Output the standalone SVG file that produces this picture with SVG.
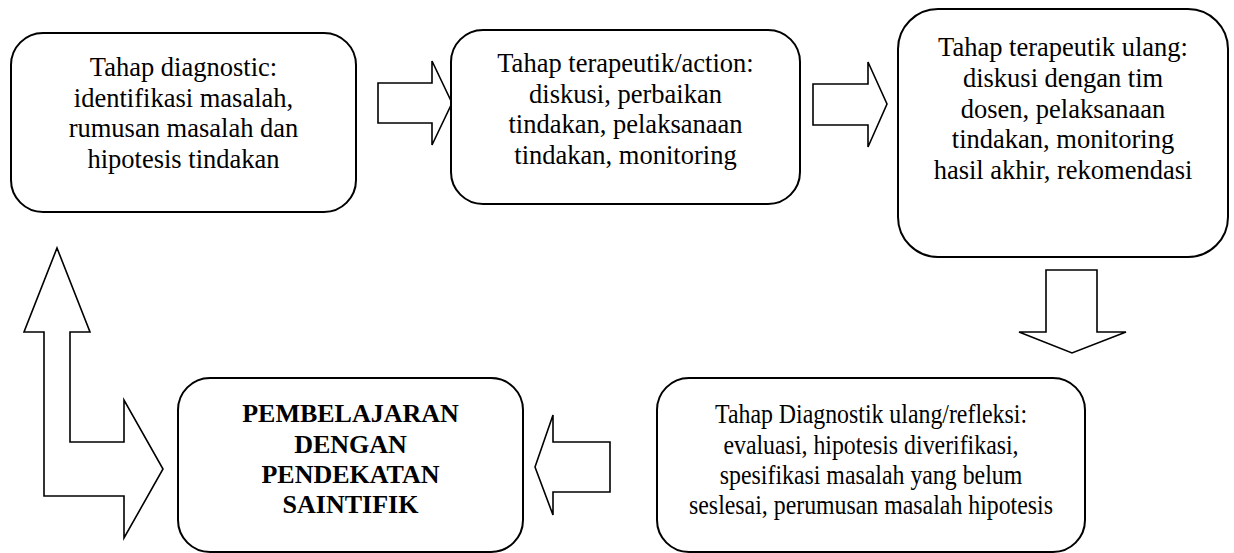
<svg xmlns="http://www.w3.org/2000/svg" width="1234" height="553" viewBox="0 0 1234 553">
<style>
.box{fill:#fff;stroke:#000;stroke-width:2}
.arr{fill:#fff;stroke:#000;stroke-width:1.6;stroke-linejoin:miter}
.t{font-family:"Liberation Serif","Times New Roman",serif;font-size:26.5px;fill:#000;text-anchor:middle}
.b{font-weight:bold;font-size:26px}
</style>
<rect width="1234" height="553" fill="#fff"/>
<g id="connectors">
<polygon class="arr" points="378,83 432,83 432,61 452,103 432,145 432,123 378,123"/>
<polygon class="arr" points="813,84 868,84 868,62 887,104 868,147 868,125 813,125"/>
<polygon class="arr" points="1046,270 1097,270 1097,332 1126,332 1072,353 1019,332 1046,332"/>
<polygon class="arr" points="535,467 553,415 553,442 610,442 610,492 553,492 553,515"/>
<polygon class="arr" points="57,248 90,332 70,332 70,442 124,442 124,400 163,469 124,538 124,496 44,496 44,332 24,332"/>
</g>
<g id="node1">
<rect class="box" x="11" y="33" width="345" height="179" rx="32"/>
<text class="t" x="183.5" y="76">Tahap diagnostic:</text>
<text class="t" x="183.5" y="106.5">identifikasi masalah,</text>
<text class="t" x="183.5" y="137">rumusan masalah dan</text>
<text class="t" x="183.5" y="167.5">hipotesis tindakan</text>
</g>
<g id="node2">
<rect class="box" x="451" y="30" width="349" height="174" rx="32"/>
<text class="t" x="625.5" y="72">Tahap terapeutik/action:</text>
<text class="t" x="625.5" y="102.5">diskusi, perbaikan</text>
<text class="t" x="625.5" y="133">tindakan, pelaksanaan</text>
<text class="t" x="625.5" y="164">tindakan, monitoring</text>
</g>
<g id="node3">
<rect class="box" x="898" y="9" width="330" height="248" rx="40"/>
<text class="t" x="1063" y="56">Tahap terapeutik ulang:</text>
<text class="t" x="1063" y="87">diskusi dengan tim</text>
<text class="t" x="1063" y="117.5">dosen, pelaksanaan</text>
<text class="t" x="1063" y="148">tindakan, monitoring</text>
<text class="t" x="1063" y="178.5">hasil akhir, rekomendasi</text>
</g>
<g id="node4">
<rect class="box" x="178" y="378" width="345" height="174" rx="32"/>
<text class="t b" x="350.5" y="422">PEMBELAJARAN</text>
<text class="t b" x="350.5" y="453">DENGAN</text>
<text class="t b" x="350.5" y="483">PENDEKATAN</text>
<text class="t b" x="350.5" y="513">SAINTIFIK</text>
</g>
<g id="node5">
<rect class="box" x="657" y="378" width="428" height="174" rx="32"/>
<g transform="translate(871,0) scale(0.9,1)">
<text class="t" x="0" y="423">Tahap Diagnostik ulang/refleksi:</text>
<text class="t" x="0" y="454">evaluasi, hipotesis diverifikasi,</text>
<text class="t" x="0" y="484">spesifikasi masalah yang belum</text>
<text class="t" x="0" y="514">seslesai, perumusan masalah hipotesis</text>
</g>
</g>
</svg>
